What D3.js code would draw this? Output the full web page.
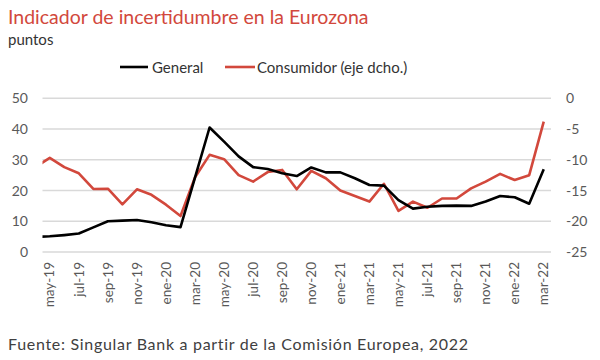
<!DOCTYPE html>
<html>
<head>
<meta charset="utf-8">
<script src="https://cdn.jsdelivr.net/npm/d3@7"></script>
<style>
  html, body { margin: 0; padding: 0; background: #ffffff; }
  svg { display: block; font-family: Lato, "Open Sans", sans-serif; }
</style>
</head>
<body>
<svg id="chart" width="600" height="360"></svg>
<script>
// Months (abr-19 is only partly visible at the left edge, clipped)
const months = ["abr-19","may-19","jun-19","jul-19","ago-19","sep-19","oct-19","nov-19","dic-19",
  "ene-20","feb-20","mar-20","abr-20","may-20","jun-20","jul-20","ago-20","sep-20","oct-20","nov-20","dic-20",
  "ene-21","feb-21","mar-21","abr-21","may-21","jun-21","jul-21","ago-21","sep-21","oct-21","nov-21","dic-21",
  "ene-22","feb-22","mar-22"];
const tickLabels = ["may-19","jul-19","sep-19","nov-19","ene-20","mar-20","may-20","jul-20","sep-20","nov-20",
  "ene-21","mar-21","may-21","jul-21","sep-21","nov-21","ene-22","mar-22"];
// General (left axis, puntos)
const general = [4.9, 5.1, 5.5, 6.0, 8.0, 10.0, 10.2, 10.4, 9.7, 8.7, 8.1, 24.3, 40.5, 35.9, 31.1, 27.6, 27.0, 25.6, 24.7,
  27.5, 25.9, 25.9, 24.0, 21.8, 21.6, 16.9, 14.1, 14.7, 15.0, 15.1, 15.0, 16.4, 18.2, 17.8, 15.7, 26.9];
// Consumidor (right axis)
const consumidor = [-11.2, -9.7, -11.2, -12.2, -14.75, -14.7, -17.25, -14.8, -15.7, -17.3, -19.15, -12.85, -9.2, -9.9,
  -12.5, -13.55, -12.0, -11.65, -14.8, -11.8, -13.0, -15.0, -15.9, -16.8, -13.9, -18.3, -16.8, -17.8, -16.3, -16.3,
  -14.65, -13.55, -12.3, -13.3, -12.5, -3.8];
const leftTicks = [0, 10, 20, 30, 40, 50];
const rightTicks = [-25, -20, -15, -10, -5, 0];

const svg = d3.select("#chart");
const red = "#d2483c";
const plot = { left: 42.5, right: 551, top: 98.3, bottom: 252 };

const x = d3.scaleLinear().domain([0.5, months.length - 0.5]).range([plot.left, plot.right]);
const yL = d3.scaleLinear().domain([0, 50]).range([plot.bottom, plot.top]);
const yR = d3.scaleLinear().domain([-25, 0]).range([plot.bottom, plot.top]);

// Title etc.
svg.append("text").attr("x", 8).attr("y", 24).attr("fill", red)
  .style("font-size", "19.5px").text("Indicador de incertidumbre en la Eurozona");
svg.append("text").attr("x", 8).attr("y", 45).attr("fill", "#333")
  .style("font-size", "15px").text("puntos");

// Legend
const legend = svg.append("g");
legend.append("line").attr("x1", 120).attr("x2", 148).attr("y1", 67).attr("y2", 67)
  .attr("stroke", "#000").attr("stroke-width", 2.6);
legend.append("text").attr("x", 152).attr("y", 72.5).attr("fill", "#333")
  .style("font-size", "15px").text("General");
legend.append("line").attr("x1", 225).attr("x2", 255).attr("y1", 67).attr("y2", 67)
  .attr("stroke", red).attr("stroke-width", 2.6);
legend.append("text").attr("x", 257).attr("y", 72.5).attr("fill", "#333")
  .style("font-size", "15px").text("Consumidor (eje dcho.)");

// Gridlines
svg.append("g").selectAll("line").data(leftTicks).join("line")
  .attr("x1", plot.left).attr("x2", plot.right)
  .attr("y1", d => yL(d)).attr("y2", d => yL(d))
  .attr("stroke", "#d9d9d9").attr("stroke-width", 1.5);

// Left axis
const axL = d3.axisLeft(yL).tickValues(leftTicks).tickSize(0).tickPadding(0);
svg.append("g").attr("transform", "translate(28,0)").call(axL)
  .call(g => g.select(".domain").remove())
  .call(g => g.selectAll("text").attr("fill", "#595959").style("font-size", "14px").style("font-family", "Lato, sans-serif"));

// Right axis
const axR = d3.axisRight(yR).tickValues(rightTicks).tickSize(0).tickPadding(0).tickFormat(d => d < 0 ? "-" + Math.abs(d) : d);
svg.append("g").attr("transform", "translate(566,0)").call(axR)
  .call(g => g.select(".domain").remove())
  .call(g => g.selectAll("text").attr("fill", "#595959").style("font-size", "14px").style("font-family", "Lato, sans-serif"));

// X labels
svg.append("g").selectAll("text").data(tickLabels).join("text")
  .attr("transform", d => `translate(${x(months.indexOf(d))},262) rotate(-90)`)
  .attr("text-anchor", "end").attr("dy", "0.35em")
  .attr("fill", "#595959").style("font-size", "13.5px").text(d => d);

// Clip
svg.append("clipPath").attr("id", "clip").append("rect")
  .attr("x", plot.left).attr("y", 0).attr("width", plot.right - plot.left).attr("height", 360);

const lineL = d3.line().x((d, i) => x(i)).y(d => yL(d));
const lineR = d3.line().x((d, i) => x(i)).y(d => yR(d));
const lines = svg.append("g").attr("clip-path", "url(#clip)");
lines.append("path").datum(consumidor).attr("d", lineR).attr("fill", "none")
  .attr("stroke", red).attr("stroke-width", 2.6).attr("stroke-linejoin", "round");
lines.append("path").datum(general).attr("d", lineL).attr("fill", "none")
  .attr("stroke", "#000").attr("stroke-width", 2.6).attr("stroke-linejoin", "round");

// Source
svg.append("text").attr("x", 8).attr("y", 350).attr("fill", "#404040")
  .style("font-size", "16px").style("letter-spacing", "0.7px")
  .text("Fuente: Singular Bank a partir de la Comisión Europea, 2022");
</script>
</body>
</html>
